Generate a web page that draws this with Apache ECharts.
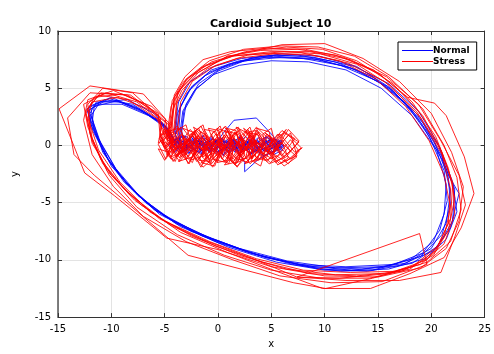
<!DOCTYPE html>
<html>
<head>
<meta charset="utf-8">
<script src="https://cdn.jsdelivr.net/npm/echarts@6/dist/echarts.min.js"></script>
<style>
  html, body { margin: 0; padding: 0; background: #fff; }
  #chart { width: 494px; height: 354px; }
</style>
</head>
<body>
<div id="chart"></div>
<script>
// axis ticks
const xTicks = [-15, -10, -5, 0, 5, 10, 15, 20, 25];
const yTicks = [-15, -10, -5, 0, 5, 10];

// Normal (blue) trajectory, one array per loop, [x, y]
const normalRun1 = [[-3.9,1.0],[-3.6,3.2],[-2.6,5.0],[-0.8,6.4],[1.5,7.2],[4.5,7.7],[8,7.6],[11.5,7.0],[15,5.6],[18,3.3],[20.3,0.3],[21.6,-2.8],[21.8,-5.2],[21.0,-7.8],[19,-9.7],[15.5,-10.6],[11,-10.7],[6.5,-10.1],[2,-9.0],[-2.5,-7.5],[-6,-5.6],[-8.8,-3.2],[-10.8,-0.6],[-11.8,2.0],[-11.6,3.4],[-9.5,3.9],[-7,3.0],[-5,1.8],
  [-4.2,0.6],[-3,-0.4],[-1.5,0.7],[0,-0.6],[1.5,0.5],[3,-0.7],[4.5,0.4],[5.8,-0.2],[5,0.6],[3.5,-0.5],[2,0.3],[0.5,-0.8],[-1,0.4],[-2.5,-0.5],[-3.8,0.4]];
const normalRun2 = [[-3.6,0.8],[-3.3,3.0],[-2.2,4.8],[-0.4,6.2],[2,7.0],[5,7.4],[8.5,7.3],[12,6.6],[15.3,5.0],[18.2,2.6],[20.5,-0.4],[21.4,-3.4],[21.2,-6.0],[20.2,-8.4],[18,-10.0],[14.5,-10.9],[10,-10.9],[5.5,-10.2],[1,-8.9],[-3.5,-7.1],[-6.8,-5.0],[-9.3,-2.5],[-11,0.2],[-11.9,2.6],[-11.2,3.6],[-9,3.6],[-6.5,2.6],[-4.7,1.4],
  [-4.5,0.2],[-3.2,0.9],[-2,-0.6],[-0.5,0.6],[1.2,-0.4],[2.6,0.8],[4,-0.6],[5.5,0.3],[6.2,-0.1],[4.8,-0.7],[3.4,0.5],[1.8,-0.3],[0.2,0.5],[-1.6,-0.7],[-3.2,0.3]];
const normalRun3 = [[-3.4,1.2],[-3.0,3.6],[-1.8,5.4],[0.2,6.7],[3,7.6],[6,8.0],[9.5,7.8],[13,6.9],[16.2,5.0],[19,2.0],[21,-1.2],[22.2,-3.8],[22,-6.6],[20.6,-8.8],[18.2,-10.3],[14,-11.0],[9.5,-10.8],[4.5,-9.8],[0,-8.4],[-4.2,-6.6],[-7.5,-4.4],[-10,-1.8],[-11.5,1],[-12.2,3],[-11,3.8],[-8.5,4.0],[-6,2.8],[-4.5,1.2],
  [-3.8,-0.3],[-2.4,0.8],[-0.8,-0.5],[0.6,1.2],[1.5,2.2],[3.6,2.4],[5.2,0.8],[6,-0.3],[4.2,-0.9],[2.8,0.2],[1,-0.6],[-0.6,0.6],[-2.2,-0.4],[-3.6,0.5]];
const normalRun4 = [[-4.0,0.9],[-3.8,2.8],[-2.9,4.6],[-1.2,6.1],[1,7.1],[4,7.8],[7.5,7.9],[11,7.3],[14.5,6.0],[17.5,3.8],[19.8,0.8],[21.2,-2.2],[21.5,-4.8],[20.8,-7.4],[19.2,-9.4],[16.5,-10.4],[12,-10.6],[7.5,-10.4],[3,-9.4],[-1.5,-7.9],[-5.5,-6.0],[-8.3,-3.6],[-10.3,-1.2],[-11.6,1.4],[-11.9,3.2],[-10.2,4.1],[-7.8,3.4],[-5.4,2.0],
  [-4.6,0.8],[-3.4,-0.6],[-1.8,0.5],[-0.2,-0.7],[1.4,0.4],[2.5,-1.5],[2.5,-2.3],[3.8,-1.2],[5.4,-0.4],[6,0.4],[4.4,0.7],[2.8,-0.4],[1.2,0.6],[-0.4,-0.5],[-2,0.5],[-3.5,-0.3]];
const normalRun5 = [[-3.7,1.1],[-3.5,3.4],[-2.4,5.2],[-0.6,6.6],[2,7.4],[5.2,7.8],[8.8,7.6],[12.4,6.8],[15.8,5.2],[18.6,2.8],[20.8,-0.2],[22,-3.2],[22.4,-5.8],[21.4,-8.2],[19.4,-9.9],[16,-10.8],[11.5,-11.0],[7,-10.4],[2.5,-9.2],[-2,-7.6],[-5.8,-5.7],[-8.6,-3.3],[-10.6,-0.8],[-11.9,1.8],[-12.1,3.4],[-10,4.2],[-7.5,3.2],[-5.2,1.9],
  [-4,0.3],[-2.8,-0.7],[-1.2,0.6],[0.4,-0.4],[2,0.7],[3.4,-0.6],[5,0.5],[6.1,-0.4],[5.2,-0.8],[3.6,0.4],[2.2,-0.6],[0.8,0.4],[-0.8,-0.6],[-2.4,0.6],[-3.8,-0.2]];
const normalRun6 = [[-3.5,0.7],[-3.2,3.0],[-2.0,5.0],[0,6.5],[2.5,7.4],[6,7.7],[9.5,7.5],[13,6.6],[16.4,4.8],[19.2,2.0],[21.0,-1.0],[21.8,-4.0],[21.4,-6.8],[20.0,-9.0],[17.6,-10.3],[13.5,-10.8],[9,-10.6],[4.5,-9.8],[0,-8.5],[-4,-6.8],[-7.2,-4.6],[-9.6,-2.0],[-11.2,0.6],[-12,2.8],[-11.4,3.8],[-9.2,3.8],[-6.8,2.8],[-4.8,1.6],
  [-4.4,0.4],[-3.0,0.8],[-1.4,-0.6],[0.2,0.7],[1.8,-0.5],[3.2,0.6],[4.6,-0.5],[5.9,0.3],[4.8,0.5],[3.2,-0.7],[1.6,0.2],[0,-0.6],[-1.8,0.5],[-3.4,-0.5]];
const normalRun7 = [[-4.1,1.3],[-3.7,3.8],[-2.6,5.6],[-0.4,6.9],[2.2,7.6],[5.5,7.9],[9,7.7],[12.8,6.9],[16,5.4],[18.8,3.0],[20.6,0.2],[21.6,-2.6],[22.6,-4.2],[21.8,-7.2],[20.2,-9.2],[17,-10.5],[12.5,-10.9],[8,-10.5],[3.5,-9.5],[-1,-8.0],[-5,-6.2],[-8,-3.9],[-10.2,-1.4],[-11.7,1.2],[-12.3,3.2],[-10.6,4.0],[-8,3.6],[-5.6,2.2],
  [-4.3,0.9],[-3.6,-0.5],[-2.2,0.6],[-0.6,-0.5],[1,0.6],[2.4,-0.4],[3.8,0.7],[5.2,-0.3],[6,0.1],[4.4,-0.5],[3,0.5],[1.4,-0.4],[-0.2,0.4],[-1.8,-0.6],[-3.4,0.2],[-4,0.6]];
// Normal: extra time spent in the central knot
const normalDwell1 = [[-4.3,-0.2],[-3.6,0.6],[-3.0,-0.5],[-2.5,0.8],[-1.9,-0.3],[-1.4,0.9],[-0.8,-0.6],[-0.2,0.5],[0.5,-0.9],[1.0,0.4],[1.6,-0.6],[2.1,0.9],[2.7,-0.4],[3.3,0.8],[3.9,-0.7],[4.5,0.5],[5.1,-0.6],[5.7,0.4],[6.2,0.0],[5.4,-0.3],[4.6,0.8],[3.8,-0.2],[2.9,0.5],[2.0,-0.8],[1.2,0.7],[0.3,-0.4],[-0.6,0.8],[-1.5,-0.5],[-2.4,0.4],[-3.3,-0.4],[-4.0,0.5]];
const normalDwell2 = [[-4.6,0.1],[-4.0,-0.6],[-3.3,0.4],[-2.7,-0.7],[-2.1,0.5],[-1.5,-0.8],[-0.9,0.3],[-0.3,-0.5],[0.4,0.7],[0.9,-0.6],[1.5,0.6],[2.0,-0.9],[2.6,0.3],[3.1,-0.8],[3.7,0.5],[4.3,-0.5],[4.9,0.6],[5.5,-0.4],[6.0,0.3],[5.0,0.0],[4.0,-0.4],[3.0,0.2],[2.0,0.6],[1.0,-0.2],[0.0,0.4],[-1.0,-0.3],[-2.0,0.3],[-3.0,-0.2],[-3.9,0.6]];

// Stress (red) trajectory
const stressRun1 = [[-4.6,1.2],[-4.3,3.9],[-3.3,5.5],[-1.2,7.0],[2,8.0],[6,8.8],[10,8.9],[13.6,7.6],[17,5.6],[20,2.8],[21.9,-0.6],[23,-3.6],[22.6,-6.6],[21.4,-9],[19,-10.7],[15,-11.5],[10,-11.4],[5,-10.6],[0,-9.1],[-4.8,-8.1],[-9.7,-4.4],[-12.5,-2.4],[-14.9,3.2],[-12,5.2],[-7,4.5],[-4.9,2.3],
  [-5.2,0.6],[-3.8,-0.9],[-2.5,1.0],[-1,-1.1],[0.6,0.9],[2,-0.9],[3.6,1.1],[5,-0.8],[6.6,0.9],[7.8,-0.2],[6.8,-1.2],[5.2,0.6],[3.8,-1.3],[2.2,0.8],[0.6,-1.4],[-1,0.8],[-2.6,-1.2],[-4.2,0.7]];
const stressRun2 = [[-4.4,1.6],[-4.1,4.2],[-2.8,5.9],[-0.6,7.3],[2.6,8.2],[6.4,8.6],[9.8,8.4],[13,7.4],[16.4,5.4],[19.2,2.6],[21,-0.6],[22,-3.4],[21.8,-6.4],[20.6,-8.8],[18.2,-10.6],[14.5,-11.6],[10.1,-12.5],[7.1,-12.0],[-2.8,-9.6],[-8.3,-5.2],[-11.6,-2.6],[-13.5,-0.8],[-14.1,2.4],[-12,4.6],[-8.5,4.4],[-5.6,2.8],
  [-5.4,0.4],[-4.4,-1.0],[-3.2,0.8],[-1.8,-1.2],[-0.2,1.0],[1.4,-1.2],[3,0.9],[4.4,-1.0],[5.8,1.0],[7.2,-0.6],[7.9,-0.2],[6.4,-1.4],[4.8,0.4],[3.2,-1.0],[1.6,1.1],[0,-0.9],[-1.6,1.2],[-3,-0.8],[-4.6,0.9]];
const stressRun3 = [[-4.0,1.4],[-3.8,4.6],[-2.2,6.2],[0.9,7.8],[4,8.3],[7.5,8.4],[11,7.9],[14.6,6.6],[17.8,4.2],[20.3,3.7],[21.4,2.6],[23.1,-1.0],[24,-4.2],[22.8,-7.2],[21.2,-9.8],[18,-11.2],[14.3,-12.5],[9.8,-12.5],[5.5,-11.0],[1,-9.4],[-3.5,-7.6],[-7.2,-5.2],[-10,-2.6],[-11.8,0.2],[-12.4,3.0],[-11.2,4.4],[-8.4,4.0],[-5.8,2.4],
  [-4.8,0.9],[-3.6,-0.7],[-2.2,1.3],[-0.6,-0.8],[1,1.4],[2.4,-0.6],[3.8,1.2],[5.4,-0.4],[6.8,1.1],[7.4,-0.9],[5.8,-1.6],[4.2,-0.2],[2.6,-1.5],[1,0.2],[-0.6,-1.6],[-2,0.4],[-3.6,-1.4],[-4.8,0.2]];
const stressRun4 = [[-4.8,0.8],[-4.4,3.4],[-3.5,5.0],[-1.6,6.8],[1.4,7.8],[5,8.2],[8.6,8.2],[12.4,7.5],[15.8,6.0],[18.8,3.6],[20.9,0.4],[22.6,-2.6],[23.2,-5.2],[22.2,-8.0],[20.9,-11.1],[17,-11.8],[12,-11.8],[7.4,-11.5],[3,-9.8],[-1.5,-8.2],[-5.5,-6.4],[-8.8,-3.8],[-11,-1.2],[-12.2,1.6],[-12.6,3.6],[-10.5,4.6],[-7.6,3.8],[-5.2,2.0],
  [-5.6,0.2],[-4.2,1.2],[-2.8,-1.0],[-1.2,1.0],[0.4,-1.2],[1.8,1.2],[3.2,-1.1],[4.8,0.9],[6.2,-1.0],[7.6,0.3],[6.2,1.1],[4.6,-0.6],[3,0.9],[1.4,-1.5],[-0.2,0.6],[-1.6,-1.9],[-3,0.5],[-4.4,-0.7]];
const stressRun5 = [[-4.2,0.9],[-3.9,3.6],[-2.9,5.3],[-1,6.7],[1.8,7.6],[5.2,8.0],[8.8,7.9],[12.2,7.2],[15.6,5.6],[18.6,3.0],[20.8,-0.2],[22,-3.2],[22.2,-6.0],[21.2,-8.6],[19,-10.4],[15.6,-11.2],[11,-11.3],[6.4,-10.8],[2,-9.6],[-2.5,-7.9],[-6.4,-5.8],[-9.2,-3.2],[-11.2,-0.4],[-12.2,2.4],[-11.8,3.8],[-9.4,4.2],[-6.6,3.2],[-4.6,1.8],
  [-4.8,0.0],[-3.4,1.0],[-2,-0.9],[-0.4,1.2],[1.2,-0.8],[2.8,1.4],[4.2,-0.8],[5.6,1.0],[6.8,-0.5],[5.4,-1.5],[4,0.3],[2.4,-1.2],[0.8,0.9],[-0.8,-1.3],[-2.4,0.9],[-3.8,-1.0],[-5,0.8]];
const stressRun6 = [[-3.8,1.3],[-3.5,3.8],[-2.4,5.6],[-0.2,7.0],[2.8,7.9],[6.2,8.2],[9.6,8.0],[13,7.1],[16.2,5.2],[19,2.4],[21,-0.8],[21.8,-3.8],[21.6,-6.8],[20.4,-9.2],[18,-10.8],[14.2,-11.6],[9.6,-11.6],[5,-10.9],[0.6,-9.6],[-3.8,-7.8],[-7.6,-5.4],[-10.2,-2.6],[-11.8,0.4],[-12.4,2.8],[-11.6,4.2],[-9,4.5],[-6.2,3.4],[-4.4,1.8],
  [-4.4,0.6],[-3,-1.2],[-1.6,0.8],[0,-1.0],[1.6,1.2],[3.2,-1.2],[4.6,1.0],[6,-0.9],[7.2,0.6],[6,1.3],[4.4,-0.4],[2.8,1.1],[1.2,-1.3],[-0.4,0.4],[-2,-1.4],[-3.4,0.9],[-4.8,-0.4]];
const stressRun7 = [[-4.5,1.0],[-4.0,4.0],[-3.0,5.8],[-0.8,7.4],[2.4,8.4],[6,8.7],[9.4,8.6],[12.8,7.8],[16,6.0],[19.2,3.2],[21.2,0],[22.4,-2.8],[22.8,-5.6],[21.8,-8.4],[19.6,-10.2],[16,-11.2],[11.4,-11.6],[7.4,-11.5],[18.9,-7.7],[19.6,-10.4],[15.4,-11.9],[10.6,-12.0],[5.8,-11.4],[1.4,-10.0],[-3,-8.4],[-7,-6.2],[-9.8,-3.6],[-11.8,-0.8],[-12.6,2.2],[-12.2,4.0],[-9.8,4.8],[-6.8,3.6],[-4.8,2.0],
  [-5,0.8],[-3.6,-0.6],[-2.2,1.1],[-0.8,-1.2],[0.8,0.9],[2.2,-1.0],[3.6,1.3],[5.2,-0.7],[6.6,1.4],[7.6,0.4],[6.4,-1.0],[4.8,-1.6],[3.4,-0.4],[1.8,-1.8],[0.2,-0.6],[-1.4,-1.9],[-2.8,-0.3],[-4.4,-1.2],[-5.2,0.3]];
const stressRun8 = [[-4.3,1.4],[-4.1,4.4],[-3.1,6.0],[-1.4,7.5],[1.2,8.2],[4.6,8.5],[8.2,8.4],[11.8,7.7],[15.2,6.2],[18.2,3.8],[20.4,0.8],[21.6,-2.0],[22.2,-4.6],[21.6,-7.4],[20.2,-9.6],[17.2,-11.0],[13,-11.4],[8.6,-11.2],[4.2,-10.2],[-0.2,-8.8],[-4.4,-7.0],[-7.8,-4.8],[-10.4,-2.2],[-11.8,0.6],[-12.2,3.2],[-11,4.6],[-8.2,4.4],[-5.6,2.6],
  [-5.2,1.2],[-4,-0.4],[-2.6,1.4],[-1,-0.4],[0.6,1.6],[2.2,-0.2],[3.6,1.6],[5.2,0.2],[6.4,1.4],[5,-0.8],[3.4,0.4],[1.8,-1.2],[0.2,0.2],[-1.4,-1.0],[-3,0.3],[-4.6,-0.6]];
const stressRun9 = [[-4.7,0.8],[-4.2,3.2],[-3.4,4.8],[-1.8,6.4],[0.9,7.8],[4.2,8.0],[7.8,8.1],[11.4,7.4],[14.8,5.8],[17.6,3.4],[19.8,0.4],[21.2,-2.6],[21.8,-5.4],[21.2,-8.0],[19.6,-10.0],[16.6,-11.0],[12.4,-11.1],[8,-10.9],[3.6,-9.9],[-0.8,-8.4],[-5,-6.6],[-8.4,-4.2],[-10.8,-1.6],[-12,1.0],[-12.2,3.6],[-10.8,5.0],[-8,4.6],[-5.4,2.4],
  [-5.4,0.9],[-4.2,-1.4],[-2.8,0.6],[-1.4,-1.6],[0.2,0.5],[1.6,-1.7],[3,0.3],[4.6,-1.4],[6,0.2],[7.4,-1.0],[6.2,-1.8],[4.6,-0.2],[3,-1.6],[1.4,0.7],[-0.2,-1.4],[-1.8,0.9],[-3.4,-1.0],[-4.6,0.6]];
// Stress: extra time spent in the central knot
const stressDwell1 = [[-4.8,-0.2],[-5.4,0.8],[-4.6,1.4],[-3.9,0.2],[-4.4,-1.0],[-3.4,-0.6],[-2.8,0.9],[-3.3,1.5],[-2.2,1.1],[-1.9,-0.4],[-2.6,-1.3],[-1.4,-0.9],[-0.8,0.6],[-1.3,1.4],[-0.2,1.2],[0.3,-0.3],[-0.5,-1.2],[0.8,-1.5],[1.2,0.2],[0.6,1.3],[1.8,1.0],[2.2,-0.6],[1.5,-1.3],[2.8,-1.1],[3.2,0.5],[2.6,1.2],[3.8,0.9],[4.1,-0.4],[3.4,-1.4],[4.6,-1.0],[5.1,0.6],[4.4,1.1],[5.5,0.4],[5.8,-0.8],[4.9,-1.5],[3.9,-0.5],[3.0,0.3],[2.0,1.4],[1.0,0.4],[0.1,-0.8],[-1.0,0.2],[-2.0,1.3],[-3.0,0.1],[-3.6,-1.1],[-4.4,0.3],[-5.0,1.2]];
const stressDwell2 = [[-5.3,0.3],[-4.7,-0.9],[-4.1,0.8],[-3.5,1.6],[-3.0,-0.3],[-3.7,-1.4],[-2.4,-1.0],[-1.8,0.7],[-2.3,1.6],[-1.1,0.9],[-0.6,-0.7],[-1.6,-1.5],[-0.3,-1.8],[0.4,0.1],[-0.1,1.5],[1.0,1.1],[1.4,-0.9],[0.6,-1.7],[1.9,-1.4],[2.4,0.4],[1.7,1.6],[2.9,1.0],[3.3,-0.8],[2.5,-1.6],[3.7,-1.2],[4.3,0.2],[3.6,1.5],[4.8,1.2],[5.2,-0.5],[6.0,0.3],[6.6,-1.1],[5.6,-1.7],[4.7,-0.2],[3.8,0.6],[2.7,-0.4],[1.6,0.5],[0.7,-0.5],[-0.4,0.6],[-1.4,-0.4],[-2.5,0.4],[-3.4,-0.6],[-4.3,0.5],[-4.9,1.4]];
const stressDwell3 = [[-5.6,0.1],[-4.9,-1.2],[-4.2,-0.2],[-4.6,1.1],[-3.8,1.7],[-3.1,0.6],[-3.4,-0.8],[-2.7,-1.6],[-2.0,-0.2],[-2.4,1.0],[-1.6,1.7],[-0.9,0.3],[-1.2,-1.0],[-0.5,-1.9],[0.2,-0.6],[-0.1,0.9],[0.7,1.7],[1.3,0.6],[1.0,-1.1],[1.8,-1.9],[2.5,-0.8],[2.1,0.8],[3.0,1.6],[3.5,0.1],[3.1,-1.3],[4.0,-1.8],[4.5,-0.3],[4.2,1.0],[5.0,1.5],[5.4,0.0],[5.1,-1.2],[4.1,-0.6],[3.2,0.4],[2.3,-0.5],[1.4,0.3],[0.4,-0.3],[-0.6,0.4],[-1.7,-0.5],[-2.8,0.5],[-3.9,-0.3],[-4.6,0.7]];
const stressDwell4 = [[-5.5,0.6],[-4.9,1.6],[-4.2,0.4],[-4.8,-0.8],[-4.0,-1.4],[-3.5,0.0],[-3.9,1.3],[-3.0,1.8],[-2.6,0.5],[-3.1,-0.9],[-2.4,-1.5],[-1.9,-0.2],[-2.2,1.2],[-1.4,1.8],[-1.0,0.4],[-1.5,-1.0],[-0.7,-1.6],[-0.2,-0.3],[-0.6,1.0],[0.2,1.7],[0.7,0.3],[0.3,-1.1],[1.0,-1.6],[1.5,-0.2],[1.1,1.1],[1.9,1.6],[2.4,0.2],[2.0,-1.2],[2.8,-1.5],[3.3,0.0],[2.9,1.2],[3.6,1.3],[3.2,-0.4],[2.2,0.6],[1.2,-0.5],[0.2,0.6],[-0.9,-0.5],[-2.0,0.7],[-3.1,-0.4],[-4.1,0.8],[-5.0,-0.2],[-5.4,1.0]];
const stressDwell5 = [[-5.6,-0.3],[-5.0,-1.3],[-4.4,-0.1],[-4.7,1.2],[-3.7,1.5],[-3.3,-0.4],[-2.8,-1.6],[-2.1,-0.5],[-2.7,0.9],[-1.8,1.5],[-1.2,-0.1],[-1.8,-1.3],[-0.8,-1.4],[-0.4,0.3],[-0.9,1.5],[0.1,1.3],[0.5,-0.4],[-0.1,-1.5],[0.9,-1.3],[1.3,0.5],[0.8,1.5],[1.7,1.3],[2.1,-0.5],[1.6,-1.6],[2.6,-1.1],[3.0,0.6],[2.4,1.5],[3.4,0.8],[3.5,-1.0],[4.4,-1.3],[5.6,-0.9],[6.8,0.5],[7.6,-0.5],[6.6,-1.6],[5.0,-0.6],[3.8,0.2],[2.8,-0.2],[1.8,0.3],[0.6,-0.2],[-0.6,0.2],[-1.6,-0.3],[-2.6,0.2],[-3.6,-0.2],[-4.6,0.6]];

const normalData = [].concat(normalRun1, normalDwell1, normalRun2, normalRun3, normalDwell2, normalRun4, normalRun5, normalRun6, normalRun7);
const stressData = [].concat(stressRun1, stressDwell1, stressRun2, stressRun3, stressDwell2, stressRun4, stressRun5, stressDwell3,
  stressRun6, stressDwell4, stressRun7, stressRun8, stressDwell5, stressRun9);

const font = "DejaVu Sans, Arial, sans-serif";
const chart = echarts.init(document.getElementById("chart"));

const baseX = {
  type: "value",
  min: xTicks[0],
  max: xTicks[xTicks.length - 1],
  interval: 5,
  axisLine: { show: true, onZero: false, lineStyle: { color: "#333", width: 1 } },
  axisTick: { show: true, inside: true, length: 4, lineStyle: { color: "#333" } },
};
const baseY = {
  type: "value",
  min: yTicks[0],
  max: yTicks[yTicks.length - 1],
  interval: 5,
  axisLine: { show: true, onZero: false, lineStyle: { color: "#333", width: 1 } },
  axisTick: { show: true, inside: true, length: 4, lineStyle: { color: "#333" } },
};

chart.setOption({
  animation: false,
  backgroundColor: "#fff",
  title: {
    text: "Cardioid Subject 10",
    left: 205,
    top: 14,
    textStyle: { fontFamily: font, fontSize: 11, fontWeight: "bold", color: "#000" },
  },
  grid: { left: 58, right: 3, top: 31, bottom: 36 },
  legend: {
    orient: "vertical",
    left: 398,
    top: 42,
    padding: [4, 7, 4, 4],
    itemGap: 2,
    itemWidth: 31,
    itemHeight: 1,
    icon: "rect",
    borderColor: "#000",
    borderWidth: 1,
    backgroundColor: "#fff",
    textStyle: { fontFamily: font, fontSize: 9, fontWeight: "bold", color: "#000", padding: [0, 0, 0, -5] },
    data: ["Normal", "Stress"],
  },
  xAxis: [
    Object.assign({}, baseX, {
      position: "bottom",
      name: "x",
      nameLocation: "middle",
      nameGap: 21,
      nameTextStyle: { fontFamily: font, fontSize: 10, color: "#000" },
      axisLabel: { fontFamily: font, fontSize: 10, color: "#000", margin: 7 },
      splitLine: { show: true, lineStyle: { color: "#e3e3e3", width: 1 } },
    }),
    Object.assign({}, baseX, {
      position: "top",
      axisLabel: { show: false },
      splitLine: { show: false },
    }),
  ],
  yAxis: [
    Object.assign({}, baseY, {
      position: "left",
      name: "y",
      nameLocation: "middle",
      nameGap: 38,
      nameTextStyle: { fontFamily: font, fontSize: 10, color: "#000" },
      axisLine: { show: true, onZero: false, lineStyle: { color: "#555", width: 1.5 } },
      axisLabel: { fontFamily: font, fontSize: 10, color: "#000", margin: 7 },
      splitLine: { show: true, lineStyle: { color: "#e3e3e3", width: 1 } },
    }),
    Object.assign({}, baseY, {
      position: "right",
      axisLabel: { show: false },
      splitLine: { show: false },
    }),
  ],
  series: [
    {
      name: "Normal",
      type: "line",
      data: normalData,
      symbol: "none",
      clip: true,
      lineStyle: { color: "#0000ff", width: 1, opacity: 0.85 },
      itemStyle: { color: "#0000ff" },
    },
    {
      name: "Stress",
      type: "line",
      data: stressData,
      symbol: "none",
      clip: true,
      lineStyle: { color: "#ff0000", width: 1, opacity: 0.85 },
      itemStyle: { color: "#ff0000" },
    },
  ],
});
</script>
</body>
</html>
